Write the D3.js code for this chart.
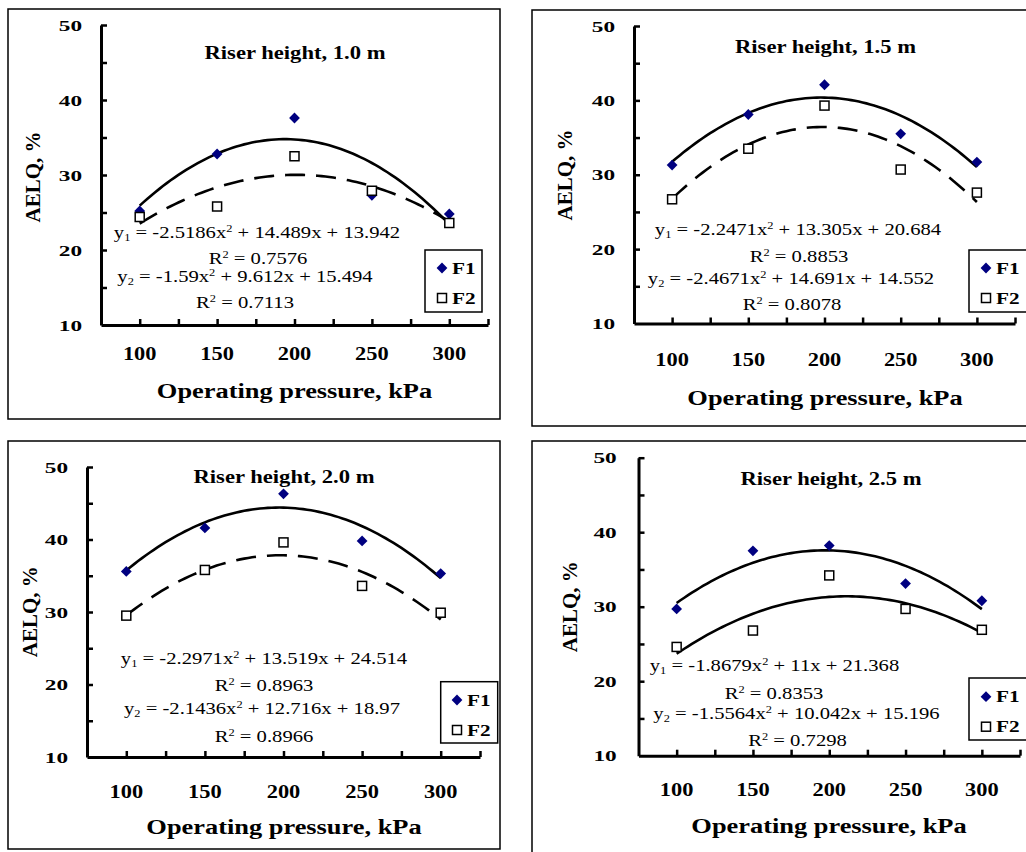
<!DOCTYPE html>
<html>
<head>
<meta charset="utf-8">
<script src="https://cdn.jsdelivr.net/npm/d3@7/dist/d3.min.js"></script>
<style>
  html, body { margin: 0; padding: 0; background: #fff; }
  svg { display: block; }
  text { font-family: "Liberation Serif", "Times New Roman", serif; fill: #000; }
</style>
</head>
<body>
<svg id="chart" width="1026" height="852"></svg>
<script>
// ---------------- DATA ----------------
const pressures = [100, 150, 200, 250, 300];
const xTickLabels = [100, 150, 200, 250, 300];
const yTickLabels = [10, 20, 30, 40, 50];
const seriesNames = ["F1", "F2"];
const panelTitles = ["Riser height, 1.0 m", "Riser height, 1.5 m", "Riser height, 2.0 m", "Riser height, 2.5 m"];

const f1_h10 = [25.2, 32.8, 37.6, 27.3, 24.8];
const f2_h10 = [24.4, 25.8, 32.5, 27.9, 23.6];
const f1_h15 = [31.3, 38.1, 42.1, 35.5, 31.7];
const f2_h15 = [26.7, 33.5, 39.3, 30.7, 27.6];
const f1_h20 = [35.6, 41.6, 46.3, 39.8, 35.3];
const f2_h20 = [29.5, 35.8, 39.6, 33.6, 29.9];
const f1_h25 = [29.7, 37.5, 38.2, 33.1, 30.8];
const f2_h25 = [24.6, 26.8, 34.2, 29.7, 26.9];

// trendline coefficients [a, b, c] : y = a x^2 + b x + c, x = point index 1..5
const fit1_h10 = [-2.5186, 14.489, 13.942];
const fit2_h10 = [-1.59, 9.612, 15.494];
const fit1_h15 = [-2.2471, 13.305, 20.684];
const fit2_h15 = [-2.4671, 14.691, 14.552];
const fit1_h20 = [-2.2971, 13.519, 24.514];
const fit2_h20 = [-2.1436, 12.716, 18.97];
const fit1_h25 = [-1.8679, 11, 21.368];
const fit2_h25 = [-1.5564, 10.042, 15.196];

const eq1_text = ["-2.5186x|2| + 14.489x + 13.942", "-2.2471x|2| + 13.305x + 20.684", "-2.2971x|2| + 13.519x + 24.514", "-1.8679x|2| + 11x + 21.368"];
const eq2_text = ["-1.59x|2| + 9.612x + 15.494", "-2.4671x|2| + 14.691x + 14.552", "-2.1436x|2| + 12.716x + 18.97", "-1.5564x|2| + 10.042x + 15.196"];
const r2_1 = ["0.7576", "0.8853", "0.8963", "0.8353"];
const r2_2 = ["0.7113", "0.8078", "0.8966", "0.7298"];

// ---------------- LAYOUT ----------------
const layouts = [
  { frame:[8,9,492,410], ax:[101,488], ay:[325,25], title:[295,52], xlabY:353, xtitle:[294.5,390], ytitle:[33,177], ylabR:82,
    eq:[[257,232],[258,258],[245,276],[245,302]], leg:{x:425,y:250,w:57,h:62,r1:268,r2:298,mx:442}, dash2:true },
  { frame:[532,10,500,416], ax:[634,1015], ay:[323.5,26], title:[825.5,46.7], xlabY:359, xtitle:[825,397], ytitle:[565,175], ylabR:615,
    eq:[[798,229],[799,256],[791,278],[792,304]], leg:{x:969,y:250,w:70,h:62,r1:268,r2:298,mx:986}, dash2:true },
  { frame:[8,441,492,408], ax:[87,480], ay:[757,467], title:[284,476.7], xlabY:791, xtitle:[284,826.7], ytitle:[30,611.7], ylabR:68,
    eq:[[264,657.7],[264,685],[262,708.3],[264,736]], leg:{x:440.7,y:681.7,w:57,h:61.3,r1:700,r2:730,mx:457}, dash2:true },
  { frame:[532,441,500,420], ax:[638.5,1020], ay:[755.7,457.7], title:[831,478], xlabY:789, xtitle:[829,825.7], ytitle:[570,606.7], ylabR:616.7,
    eq:[[774.5,665],[774,693],[796.5,712.7],[797.5,740]], leg:{x:969,y:678,w:70,h:62,r1:696.7,r2:726.7,mx:986}, dash2:false }
];

const panels = [
  { f1: f1_h10, f2: f2_h10, fit1: fit1_h10, fit2: fit2_h10 },
  { f1: f1_h15, f2: f2_h15, fit1: fit1_h15, fit2: fit2_h15 },
  { f1: f1_h20, f2: f2_h20, fit1: fit1_h20, fit2: fit2_h20 },
  { f1: f1_h25, f2: f2_h25, fit1: fit1_h25, fit2: fit2_h25 }
];

const svg = d3.select("#chart");
const NAVY = "#000080";

function stretchedText(g, x, y, str, size, sx, opts = {}) {
  return g.append("text")
    .attr("transform", `translate(${x},${y}) scale(${sx},1)`)
    .attr("font-size", size)
    .attr("font-weight", opts.bold ? "bold" : "normal")
    .attr("text-anchor", opts.anchor || "middle")
    .text(str);
}

function eqText(g, x, y, sub, body, size, sx) {
  // body uses |2| for superscript 2
  const t = g.append("text")
    .attr("transform", `translate(${x},${y}) scale(${sx},1)`)
    .attr("font-size", size)
    .attr("text-anchor", "middle");
  if (sub !== null) {
    t.append("tspan").text("y");
    t.append("tspan").attr("font-size", size * 0.6).attr("dy", 3).text(sub);
    t.append("tspan").attr("dy", -3).text(" = ");
  }
  const parts = body.split("|");
  parts.forEach((p, i) => {
    if (i % 2 === 1) t.append("tspan").attr("font-size", size * 0.6).attr("dy", -6).text(p);
    else t.append("tspan").attr("dy", i === 0 ? 0 : 6).text(p);
  });
  return t;
}

const diamond = d3.symbol().type(d3.symbolSquare).size(58);

panels.forEach((pd, pi) => {
  const L = layouts[pi];
  const g = svg.append("g");

  // frame
  g.append("rect").attr("x", L.frame[0]).attr("y", L.frame[1]).attr("width", L.frame[2]).attr("height", L.frame[3])
    .attr("fill", "none").attr("stroke", "#000").attr("stroke-width", 1.5);

  const x = d3.scaleLinear().domain([75, 325]).range(L.ax);
  const y = d3.scaleLinear().domain([10, 50]).range(L.ay);

  // axes with inward ticks
  const xAxis = d3.axisBottom(x).tickValues(d3.range(100, 326, 25)).tickSizeInner(-6).tickSizeOuter(0).tickFormat("");
  const yAxis = d3.axisLeft(y).tickValues(d3.range(15, 51, 5)).tickSizeInner(-6).tickSizeOuter(0).tickFormat("");
  const gx = g.append("g").attr("transform", `translate(0,${y(10)})`).call(xAxis);
  const gy = g.append("g").attr("transform", `translate(${x(75)},0)`).call(yAxis);
  [gx, gy].forEach(a => {
    a.select(".domain").attr("stroke", "#000").attr("stroke-width", 3);
    a.selectAll(".tick line").attr("stroke", "#000").attr("stroke-width", 2.5);
  });

  // tick labels
  yTickLabels.forEach(v => {
    stretchedText(g, L.ylabR, y(v) + 5.5, String(v), 15.5, 1.5, { bold: true, anchor: "end" });
  });
  xTickLabels.forEach(v => {
    stretchedText(g, x(v), L.xlabY + 6.5, String(v), 19, 1.18, { bold: true });
  });

  // axis titles
  stretchedText(g, L.xtitle[0], L.xtitle[1] + 7.5, "Operating pressure, kPa", 22, 1.2, { bold: true });
  g.append("text")
    .attr("transform", `translate(${L.ytitle[0] + 7},${L.ytitle[1]}) rotate(-90)`)
    .attr("font-size", 21).attr("font-weight", "bold").attr("text-anchor", "middle")
    .text("AELQ, %");

  // title
  stretchedText(g, L.title[0], L.title[1] + 6.5, panelTitles[pi], 19, 1.19, { bold: true });

  // trendlines
  const fx = d3.range(1, 5.0001, 0.05);
  const line = d3.line().x(d => x(d[0])).y(d => y(d[1]));
  const trend = (c) => fx.map(i => [50 + 50 * i, c[0] * i * i + c[1] * i + c[2]]);
  g.append("path").attr("d", line(trend(pd.fit1))).attr("fill", "none").attr("stroke", "#000").attr("stroke-width", 2.6);
  g.append("path").attr("d", line(trend(pd.fit2))).attr("fill", "none").attr("stroke", "#000").attr("stroke-width", 2.6)
    .attr("stroke-dasharray", L.dash2 ? "20,11" : null);

  // markers
  g.selectAll(null).data(pd.f1).enter().append("path")
    .attr("d", diamond)
    .attr("transform", (d, i) => `translate(${x(pressures[i])},${y(d)}) rotate(45)`)
    .attr("fill", NAVY);
  g.selectAll(null).data(pd.f2).enter().append("rect")
    .attr("x", (d, i) => x(pressures[i]) - 4.5).attr("y", d => y(d) - 4.5)
    .attr("width", 9).attr("height", 9)
    .attr("fill", "#fff").attr("stroke", "#000").attr("stroke-width", 1.5);

  // equations
  eqText(g, L.eq[0][0], L.eq[0][1] + 6, "1", eq1_text[pi], 17.5, 1.18);
  eqText(g, L.eq[1][0], L.eq[1][1] + 6, null, "R|2| = " + r2_1[pi], 17.5, 1.18);
  eqText(g, L.eq[2][0], L.eq[2][1] + 6, "2", eq2_text[pi], 17.5, 1.18);
  eqText(g, L.eq[3][0], L.eq[3][1] + 6, null, "R|2| = " + r2_2[pi], 17.5, 1.18);

  // legend
  const lg = L.leg;
  g.append("rect").attr("x", lg.x).attr("y", lg.y).attr("width", lg.w).attr("height", lg.h)
    .attr("fill", "#fff").attr("stroke", "#000").attr("stroke-width", 1.5);
  g.append("path").attr("d", diamond).attr("transform", `translate(${lg.mx},${lg.r1}) rotate(45)`).attr("fill", NAVY);
  g.append("rect").attr("x", lg.mx - 4.5).attr("y", lg.r2 - 4.5).attr("width", 9).attr("height", 9)
    .attr("fill", "#fff").attr("stroke", "#000").attr("stroke-width", 1.5);
  stretchedText(g, lg.mx + 10, lg.r1 + 5.5, seriesNames[0], 17, 1.25, { bold: true, anchor: "start" });
  stretchedText(g, lg.mx + 10, lg.r2 + 5.5, seriesNames[1], 17, 1.25, { bold: true, anchor: "start" });
});
</script>
</body>
</html>
